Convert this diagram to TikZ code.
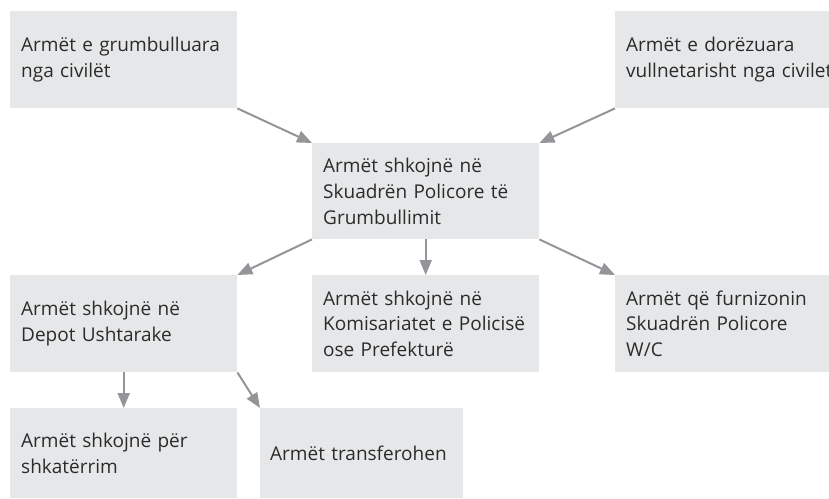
\documentclass[tikz,border=0pt]{standalone}
\usepackage{fontspec}
\setmainfont{Open Sans}
\usetikzlibrary{arrows.meta}
\definecolor{boxgray}{HTML}{E6E7E8}
\definecolor{arrowgray}{HTML}{939598}
\definecolor{textgray}{HTML}{2B2B2B}
\begin{document}
\begin{tikzpicture}[x=1pt, y=-1pt, box/.style={fill=boxgray, anchor=north west, inner xsep=11pt, inner ysep=0pt, align=left, text=textgray, font=\fontsize{19}{25.7}\selectfont, minimum height=97pt}, edge/.style={draw=arrowgray, line width=2pt, -{Triangle[length=15pt, width=12pt]}}]
		\useasboundingbox (0,0) rectangle (829,498);

		\node (collected)[box, text width=205pt] at (10,11){Armët e grumbulluara\\nga civilët};
		\node (surrendered)[box, text width=192pt] at (615,11){Armët e dorëzuara\\\mbox{vullnetarisht nga civilet}};

		\node (squad)[box, text width=205pt, minimum height=96pt] at (312,143){Armët shkojnë në\\Skuadrën Policore të\\Grumbullimit};

		\node (depot)[box, text width=205pt] at (10,275){Armët shkojnë në\\Depot Ushtarake};
		\node (station)[box, text width=205pt] at (312,275){Armët shkojnë në\\Komisariatet e Policisë\\ose Prefekturë};
		\node (supply)[box, text width=192pt] at (615,275){Armët që furnizonin\\Skuadrën Policore\\W/C};

		\node (destroy)[box, text width=205pt, minimum height=90pt] at (10,408){Armët shkojnë për\\shkatërrim};
		\node (transfer)[box, text width=183pt, minimum height=90pt, inner xsep=10pt] at (260,408){Armët transferohen};

		\draw [edge](collected.south east) -- (squad.north west);
		\draw [edge](surrendered.south west) -- (squad.north east);
		\draw [edge](squad.south west) -- (depot.north east);
		\draw [edge](squad.south) -- (station.north);
		\draw [edge](squad.south east) -- (supply.north west);
		\draw [edge](depot.south) -- (destroy.north);
		\draw [edge](depot.south east) -- (transfer.north west);
	\end{tikzpicture}
\end{document}
